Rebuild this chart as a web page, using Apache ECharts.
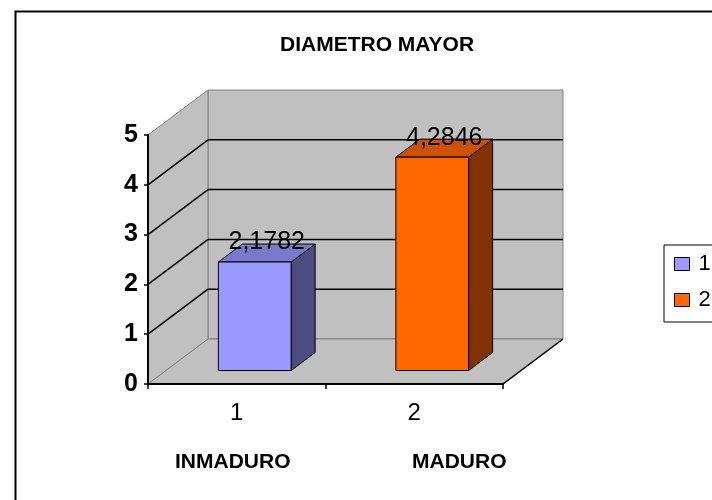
<!DOCTYPE html>
<html>
<head>
<meta charset="utf-8">
<script src="https://cdn.jsdelivr.net/npm/echarts@6/dist/echarts.min.js"></script>
<style>
  html, body { margin: 0; padding: 0; background: #fff; }
  #chart { width: 712px; height: 500px; }
</style>
</head>
<body>
<div id="chart"></div>
<script>
// datos del grafico
const categories = ['1', '2'];
const seriesNames = ['1', '2'];
const values = [2.1782, 4.2846];
const barColors = ['#9999FF', '#FF6600'];
const topColors = ['#7A7ACC', '#CC5200'];
const sideColors = ['#4C4C80', '#803300'];
const yTicks = [1, 2, 3, 4];
const groupNames = ['INMADURO', 'MADURO'];

// profundidad 3D (pixeles)
const DX = 60, DY = -45;
const F1 = 0.3, F2 = 0.7;
const FONT = 'Liberation Sans, Arial, sans-serif';

// paredes y suelo
function renderWalls(params, api) {
  const cs = params.coordSys;
  const x0 = cs.x, x1 = cs.x + cs.width;
  const yb = api.coord([0, 0])[1];
  const yt = api.coord([0, 5])[1];
  const wallStyle = { fill: '#C0C0C0', stroke: '#808080', lineWidth: 1 };
  const children = [
    { type: 'polygon', shape: { points: [[x0 + DX, yt + DY], [x1 + DX, yt + DY], [x1 + DX, yb + DY], [x0 + DX, yb + DY]] }, style: wallStyle },
    { type: 'polygon', shape: { points: [[x0, yb], [x0, yt], [x0 + DX, yt + DY], [x0 + DX, yb + DY]] }, style: wallStyle },
    { type: 'polygon', shape: { points: [[x0, yb], [x1, yb], [x1 + DX, yb + DY], [x0 + DX, yb + DY]] }, style: wallStyle },
    { type: 'line', shape: { x1: x1, y1: yb, x2: x1 + DX, y2: yb + DY }, style: { stroke: '#000', lineWidth: 1.5 } }
  ];
  yTicks.forEach(v => {
    const y = api.coord([0, v])[1];
    children.push({ type: 'line', shape: { x1: x0, y1: y, x2: x0 + DX, y2: y + DY }, style: { stroke: '#000', lineWidth: 1.5 } });
    children.push({ type: 'line', shape: { x1: x0 + DX, y1: y + DY, x2: x1 + DX, y2: y + DY }, style: { stroke: '#000', lineWidth: 1.5 } });
  });
  return { type: 'group', children: children };
}

// barra 3D
function makeBarRenderer(i) {
  return function (params, api) {
    const idx = api.value(0), val = api.value(1);
    const top = api.coord([idx, val]);
    const base = api.coord([idx, 0]);
    const bw = api.size([1, 0])[0] * 0.41;
    const xl = top[0] + F1 * DX - bw / 2, xr = xl + bw;
    const yt = top[1] + F1 * DY, yb = base[1] + F1 * DY;
    const ddx = (F2 - F1) * DX, ddy = (F2 - F1) * DY;
    const edge = { stroke: '#000', lineWidth: 1 };
    return {
      type: 'group',
      children: [
        { type: 'polygon', shape: { points: [[xr, yt], [xr + ddx, yt + ddy], [xr + ddx, yb + ddy], [xr, yb]] }, style: Object.assign({ fill: sideColors[i] }, edge) },
        { type: 'polygon', shape: { points: [[xl, yt], [xr, yt], [xr + ddx, yt + ddy], [xl + ddx, yt + ddy]] }, style: Object.assign({ fill: topColors[i] }, edge) },
        { type: 'rect', shape: { x: xl, y: yt, width: bw, height: yb - yt }, style: Object.assign({ fill: barColors[i] }, edge) },
        { type: 'text', style: {
            text: val.toFixed(4).replace('.', ','),
            x: top[0] + (F1 + F2) / 2 * DX, y: top[1] + (F1 + F2) / 2 * DY + 2,
            align: 'center', verticalAlign: 'bottom',
            fill: '#000', font: '25px ' + FONT } }
      ]
    };
  };
}

const chart = echarts.init(document.getElementById('chart'));

const series = [{
  type: 'custom', name: 'walls', z: 1, silent: true,
  renderItem: renderWalls, data: [[0, 0]]
}];
values.forEach((v, i) => {
  series.push({
    type: 'custom', name: seriesNames[i], z: 3,
    itemStyle: { color: barColors[i] },
    renderItem: makeBarRenderer(i),
    data: [[i, v]]
  });
});

const option = {
  animation: false,
  backgroundColor: '#fff',
  title: {
    text: 'DIAMETRO MAYOR', left: 275, top: 30,
    textStyle: { fontFamily: FONT, fontSize: 21, fontWeight: 'bold', color: '#000' }
  },
  legend: {
    data: seriesNames, orient: 'vertical', left: 664, top: 245,
    icon: 'rect', itemWidth: 15, itemHeight: 13, itemGap: 14,
    padding: [8, 40, 11, 10],
    backgroundColor: '#fff', borderColor: '#000', borderWidth: 1,
    itemStyle: { borderColor: '#000', borderWidth: 1 },
    textStyle: { fontFamily: FONT, fontSize: 22, color: '#000', padding: [0, 0, 0, 4] }
  },
  grid: { left: 148, top: 135, width: 355, height: 249 },
  xAxis: {
    type: 'category', data: categories, z: 5,
    axisLine: { lineStyle: { color: '#000', width: 2 } },
    axisTick: { show: true, length: 5, lineStyle: { color: '#000', width: 1.5 } },
    axisLabel: { fontFamily: FONT, fontSize: 24, color: '#000', margin: 17 }
  },
  yAxis: {
    type: 'value', min: 0, max: 5, interval: 1, z: 5,
    axisLine: { show: true, lineStyle: { color: '#000', width: 2 } },
    axisTick: { show: true, length: 4, lineStyle: { color: '#000', width: 1.5 } },
    axisLabel: { fontFamily: FONT, fontSize: 25, fontWeight: 'bold', color: '#000', margin: 10 },
    splitLine: { show: false }
  },
  graphic: [
    { type: 'rect', left: 13, top: 9, shape: { width: 800, height: 600 }, style: { fill: 'none', stroke: '#000', lineWidth: 2 }, z: -1, silent: true },
    { type: 'text', left: 175, top: 452, style: { text: groupNames[0], font: 'bold 21px ' + FONT, fill: '#000' } },
    { type: 'text', left: 412, top: 452, style: { text: groupNames[1], font: 'bold 21px ' + FONT, fill: '#000' } }
  ],
  series: series
};
chart.setOption(option);
</script>
</body>
</html>
